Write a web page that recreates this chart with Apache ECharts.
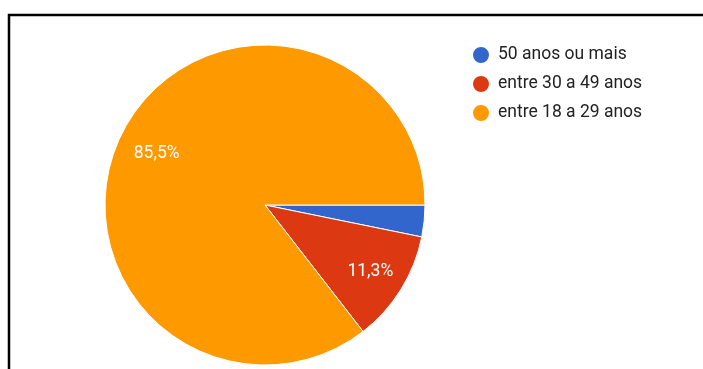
<!DOCTYPE html>
<html>
<head>
<meta charset="utf-8">
<script src="https://cdn.jsdelivr.net/npm/echarts@6/dist/echarts.min.js"></script>
<style>
html,body{margin:0;padding:0;background:#fff;}
#c{width:703px;height:369px;}
</style>
</head>
<body>
<div id="c"></div>
<script>
const categories = ['50 anos ou mais', 'entre 30 a 49 anos', 'entre 18 a 29 anos'];
const values = [3.2, 11.3, 85.5];
const labelTexts = ['', '11,3%', '85,5%'];
const colors = ['#3366cc', '#dc3912', '#ff9900'];

const chart = echarts.init(document.getElementById('c'), null, {renderer: 'canvas'});
const mainData = categories.map((n, i) => ({name: n, value: values[i], itemStyle: {color: colors[i]}}));
const labelData = categories.map((n, i) => ({
  name: n, value: values[i],
  label: {show: labelTexts[i] !== '', formatter: labelTexts[i], offset: i === 2 ? [3, 2] : [0, 0]}
}));
chart.setOption({
  animation: false,
  color: colors,
  graphic: [{
    type: 'rect', silent: true, z: 100,
    shape: {x: 9, y: 15, width: 800, height: 500},
    style: {fill: 'none', stroke: '#000', lineWidth: 2.5}
  }],
  legend: {
    orient: 'vertical',
    left: 471, top: 45,
    padding: 0,
    icon: 'circle',
    itemWidth: 18, itemHeight: 18,
    itemGap: 9,
    textStyle: {fontFamily: 'Roboto', fontSize: 17.5, color: '#222', padding: [0, 0, 0, 3]},
    data: categories
  },
  series: [{
    type: 'pie',
    center: [265, 205],
    radius: [0, 160],
    startAngle: 0,
    clockwise: true,
    label: {show: false},
    labelLine: {show: false},
    itemStyle: {borderColor: '#fff', borderWidth: 1},
    emphasis: {disabled: true},
    data: mainData
  }, {
    type: 'pie',
    center: [265, 206],
    radius: [82, 160],
    startAngle: 0,
    clockwise: true,
    silent: true,
    legendHoverLink: false,
    itemStyle: {color: 'rgba(0,0,0,0)', borderWidth: 0},
    label: {show: true, position: 'inside', color: '#fff', fontFamily: 'Roboto', fontSize: 17.5},
    labelLine: {show: false},
    emphasis: {disabled: true},
    data: labelData
  }]
});
</script>
</body>
</html>
